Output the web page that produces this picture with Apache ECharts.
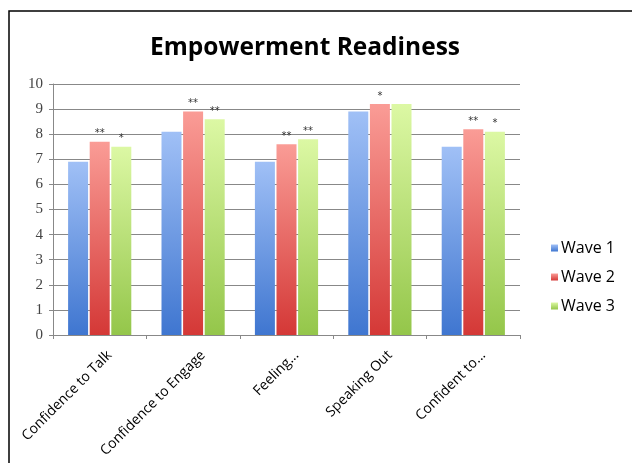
<!DOCTYPE html>
<html><head><meta charset="utf-8">
<script src="https://cdn.jsdelivr.net/npm/echarts@6/dist/echarts.min.js"></script>
<style>html,body{margin:0;padding:0;background:#fff}#c{width:632px;height:463px}</style>
</head><body><div id="c"></div>
<script>
var categories = ['Confidence to Talk','Confidence to Engage','Feeling...','Speaking Out','Confident to...'];
var wave1 = [6.9, 8.1, 6.9, 8.9, 7.5];
var wave2 = [7.7, 8.9, 7.6, 9.2, 8.2];
var wave3 = [7.5, 8.6, 7.8, 9.2, 8.1];
var stars1 = ['', '', '', '', ''];
var stars2 = ['**', '**', '**', '*', '**'];
var stars3 = ['*', '**', '**', '', '*'];
var yTicks = [0,1,2,3,4,5,6,7,8,9,10];

function grad(top, bottom){
  return new echarts.graphic.LinearGradient(0,0,0,1,[{offset:0,color:top},{offset:1,color:bottom}]);
}
function mk(name, data, stars, top, bottom){
  return {
    name: name, type:'bar', data: data, barWidth: 20, barGap:'8%',
    itemStyle:{color: grad(top,bottom)},
    label:{show:true, position:'top', distance:3, color:'#333', fontSize:10, fontFamily:'DejaVu Sans',
      formatter:function(p){return stars[p.dataIndex];}}
  };
}
var chart = echarts.init(document.getElementById('c'));
chart.setOption({
  animation:false,
  backgroundColor:'#fff',
  title:{text:'Empowerment Readiness', left:145, top:31,
    textStyle:{fontFamily:'Open Sans', fontWeight:'bold', fontSize:24.5, color:'#000'}},
  graphic:[{type:'rect', shape:{x:9,y:11,width:700,height:600}, style:{fill:'none', stroke:'#000', lineWidth:1.5}, silent:true}],
  legend:{orient:'vertical', left:546, top:235, itemWidth:7, itemHeight:7, itemGap:13, icon:'rect',
    textStyle:{fontFamily:'Open Sans', fontSize:16, color:'#000', padding:[0,0,0,-2]},
    data:['Wave 1','Wave 2','Wave 3']},
  grid:[
    {left:53, right:112, top:84, bottom:128, containLabel:false},
    {left:63, right:102, top:84, bottom:128, containLabel:false}
  ],
  xAxis:[
    {type:'category', data:categories, gridIndex:0,
      axisLine:{lineStyle:{color:'#888'}},
      axisTick:{show:true, interval:0, length:4, lineStyle:{color:'#888'}},
      axisLabel:{show:false}},
    {type:'category', data:categories, gridIndex:1,
      axisLine:{show:false}, axisTick:{show:false}, splitLine:{show:false},
      axisLabel:{interval:0, rotate:45, fontFamily:'Liberation Sans Narrow, Open Sans', fontSize:14, color:'#000', margin:18}}
  ],
  yAxis:[
    {type:'value', min:0, max:10, interval:1, gridIndex:0,
      axisLine:{show:true, lineStyle:{color:'#888'}},
      axisTick:{show:true, length:4, lineStyle:{color:'#888'}},
      splitLine:{lineStyle:{color:'#888', width:1}},
      axisLabel:{fontFamily:'Liberation Serif', fontSize:15, color:'#444', margin:10,
        formatter:function(v){return yTicks.indexOf(v)>=0 ? String(v) : '';}}},
    {type:'value', min:0, max:10, gridIndex:1, show:false}
  ],
  series:[
    mk('Wave 1', wave1, stars1, '#a0c0f6', '#3f76d0'),
    mk('Wave 2', wave2, stars2, '#fa9c96', '#d43836'),
    mk('Wave 3', wave3, stars3, '#dcf8a4', '#94c64a')
  ]
});
</script></body></html>
